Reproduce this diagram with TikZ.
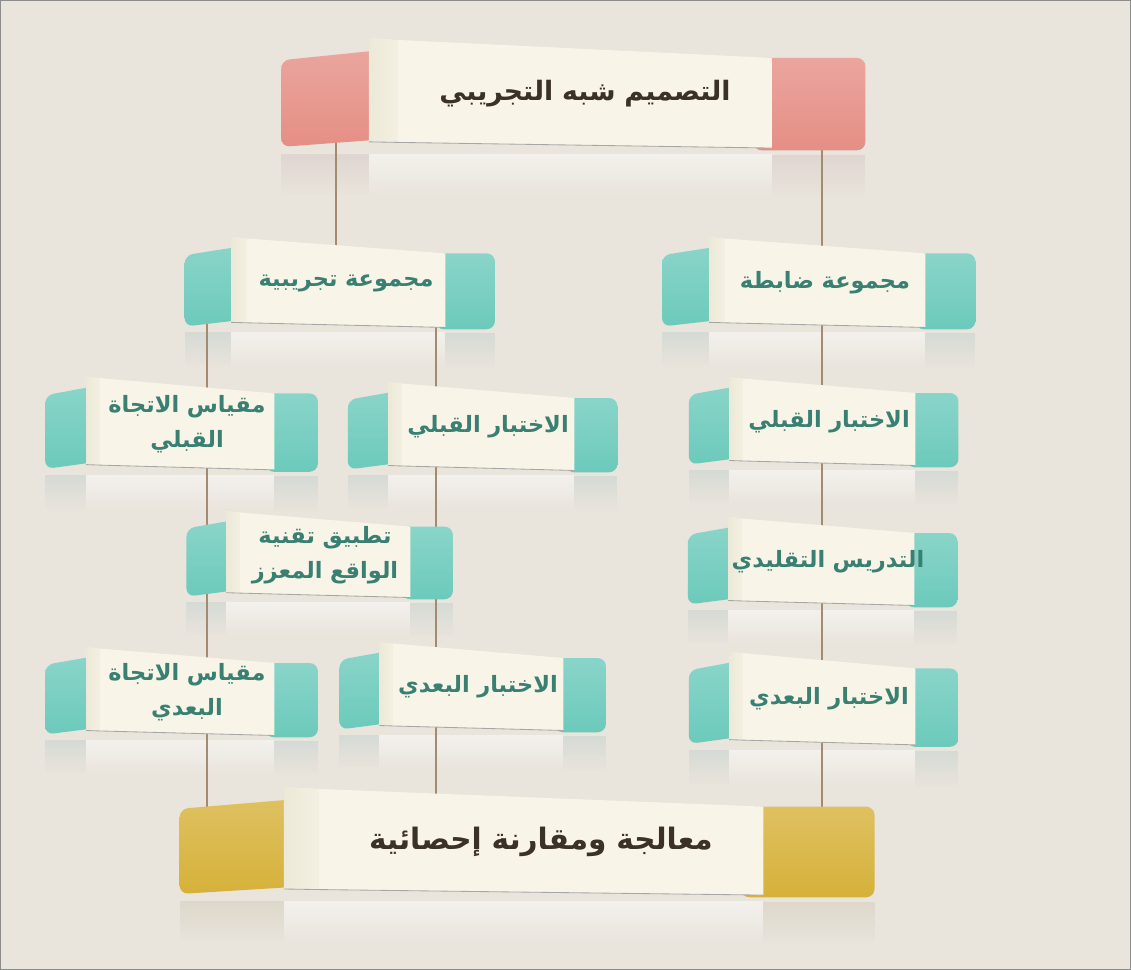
\documentclass[tikz,border=0pt]{standalone}
\usepackage{fontspec}
\usetikzlibrary{calc,fadings}
\TeXXeTstate=1
\newfontfamily\arabicfont[Script=Arabic]{DejaVu Sans}

\definecolor{canvas}{HTML}{E9E4DC}
\definecolor{tealtab}{HTML}{6CCABB}
\definecolor{redtab}{HTML}{E58F85}
\definecolor{goldtab}{HTML}{D6B13A}
\definecolor{cream}{HTML}{F8F5E8}
\definecolor{foldcream}{HTML}{EDE9D8}
\definecolor{stringbrown}{HTML}{A28B70}
\definecolor{tealtext}{HTML}{3A8072}
\definecolor{browntext}{HTML}{3B3127}

\pgfdeclarelayer{back}
\pgfdeclarelayer{wires}
\pgfdeclarelayer{paper}
\pgfsetlayers{back,wires,paper,main}

% folded ribbon drawn round a node (the node is the cream middle panel)
\newcommand{\ribbon}[2]{%
  \begin{pgfonlayer}{back}
    \begin{scope}[shift={(#1.north west)},
      x={($(#1.north east)-(#1.north west)$)},
      y={($(#1.south west)-(#1.north west)$)}]
      \fill[mirror, fill=white] (-0.078,1.03) rectangle (1,1.42);
      \fill[mirror, fill=#2!35!gray!45!white] (-0.3125,1.03) rectangle (-0.078,1.4);
      \fill[mirror, fill=#2!35!gray!45!white] (1,1.04) rectangle (1.25,1.42);
    \end{scope}
  \end{pgfonlayer}
  \begin{pgfonlayer}{paper}
    \begin{scope}[shift={(#1.north west)},
      x={($(#1.north east)-(#1.north west)$)},
      y={($(#1.south west)-(#1.north west)$)}]
      \shade[top color=#2!80!white, bottom color=#2, rounded corners=6pt]
        (-0.3125,0.20) -- (-0.03,0.105) -- (-0.03,0.90) -- (-0.3125,0.97) -- cycle;
      \shade[top color=#2!80!white, bottom color=#2, rounded corners=6pt]
        (0.95,0.18) rectangle (1.25,1);
      \shade[left color=foldcream, right color=cream!60!foldcream]
        (-0.078,0) -- (0,0.02) -- (0,0.93) -- (-0.078,0.925) -- cycle;
      \fill[cream] (0,0.02) -- (1,0.18) -- (1,0.98) -- (0,0.93) -- cycle;
      \draw[crease] (-0.078,0.925) -- (0,0.93) -- (1,0.98);
    \end{scope}
  \end{pgfonlayer}}

\begin{document}
\begin{tikzpicture}[x=0.025cm, y=-0.025cm,
  mirror/.style={fill opacity=0.5, path fading=south},
  crease/.style={draw=black!35, line width=0.6pt},
  tie/.style={draw=stringbrown, line width=2pt},
  panel/.style={inner sep=0pt, align=center, text width=4.3cm, minimum height=2.3cm},
  tealbox/.style={panel, text=tealtext,
    font=\arabicfont\bfseries\fontsize{16}{25}\selectfont},
  bigbox/.style={panel, text=browntext,
    font=\arabicfont\bfseries\fontsize{21}{26}\selectfont}]

\useasboundingbox (0,0) rectangle (1131,970);
\begin{pgfonlayer}{back}
  \fill[canvas, draw=black!45] (0.5,0.5) rectangle (1130.5,969.5);
\end{pgfonlayer}

% --- boxes ---
\node[bigbox, text width=9.33cm, minimum height=2.8cm, font=\arabicfont\bfseries\fontsize{19}{24}\selectfont] (design) at (585,94) {\beginR التصميم شبه التجريبي\endR};

\node[tealbox, text width=4.95cm] (expgrp) at (346,283) {\beginR مجموعة تجريبية\endR};
\node[tealbox, text width=5cm] (ctrlgrp) at (825,283) {\beginR مجموعة ضابطة\endR};

\node[tealbox, text width=4.35cm, minimum height=2.375cm] (scaleA) at (187,424) {\beginR مقياس الاتجاة\endR\\\beginR القبلي\endR};
\node[tealbox, minimum height=2.25cm] (preA) at (488,427) {\beginR الاختبار القبلي\endR};
\node[tealbox, minimum height=2.25cm] (preB) at (829,422) {\beginR الاختبار القبلي\endR};

\node[tealbox, text width=4.25cm, minimum height=2.2cm] (arapp) at (325,555) {\beginR تطبيق تقنية\endR\\\beginR الواقع المعزز\endR};
\node[tealbox, minimum height=2.25cm] (trad) at (828,562) {\makebox[0pt][c]{\beginR التدريس التقليدي\endR}};

\node[tealbox, text width=4.35cm, minimum height=2.25cm] (scaleB) at (187,692) {\beginR مقياس الاتجاة\endR\\\beginR البعدي\endR};
\node[tealbox, text width=4.25cm, minimum height=2.25cm] (postA) at (478,687) {\beginR الاختبار البعدي\endR};
\node[tealbox, minimum height=2.375cm] (postB) at (829,699) {\beginR الاختبار البعدي\endR};

\node[bigbox, text width=11.1cm, minimum height=2.75cm] (stats) at (541,842) {\beginR معالجة ومقارنة إحصائية\endR};

\ribbon{design}{redtab}
\foreach \n in {expgrp,ctrlgrp,scaleA,preA,preB,arapp,trad,scaleB,postA,postB}
  {\ribbon{\n}{tealtab}}
\ribbon{stats}{goldtab}

% --- strings ---
\coordinate (colT) at (336,0);
\coordinate (colA) at (207,0);
\coordinate (colB) at (436,0);
\coordinate (colC) at (822,0);

\begin{pgfonlayer}{wires}
  \draw[tie] (design -| colT) -- (expgrp -| colT);
  \draw[tie] (design -| colC) -- (ctrlgrp -| colC);
  \foreach \a/\b in {expgrp/scaleA, scaleA/arapp, arapp/scaleB, scaleB/stats}
    \draw[tie] (\a -| colA) -- (\b -| colA);
  \foreach \a/\b in {expgrp/preA, preA/arapp, arapp/postA, postA/stats}
    \draw[tie] (\a -| colB) -- (\b -| colB);
  \foreach \a/\b in {ctrlgrp/preB, preB/trad, trad/postB, postB/stats}
    \draw[tie] (\a -| colC) -- (\b -| colC);
\end{pgfonlayer}

\end{tikzpicture}
\end{document}
